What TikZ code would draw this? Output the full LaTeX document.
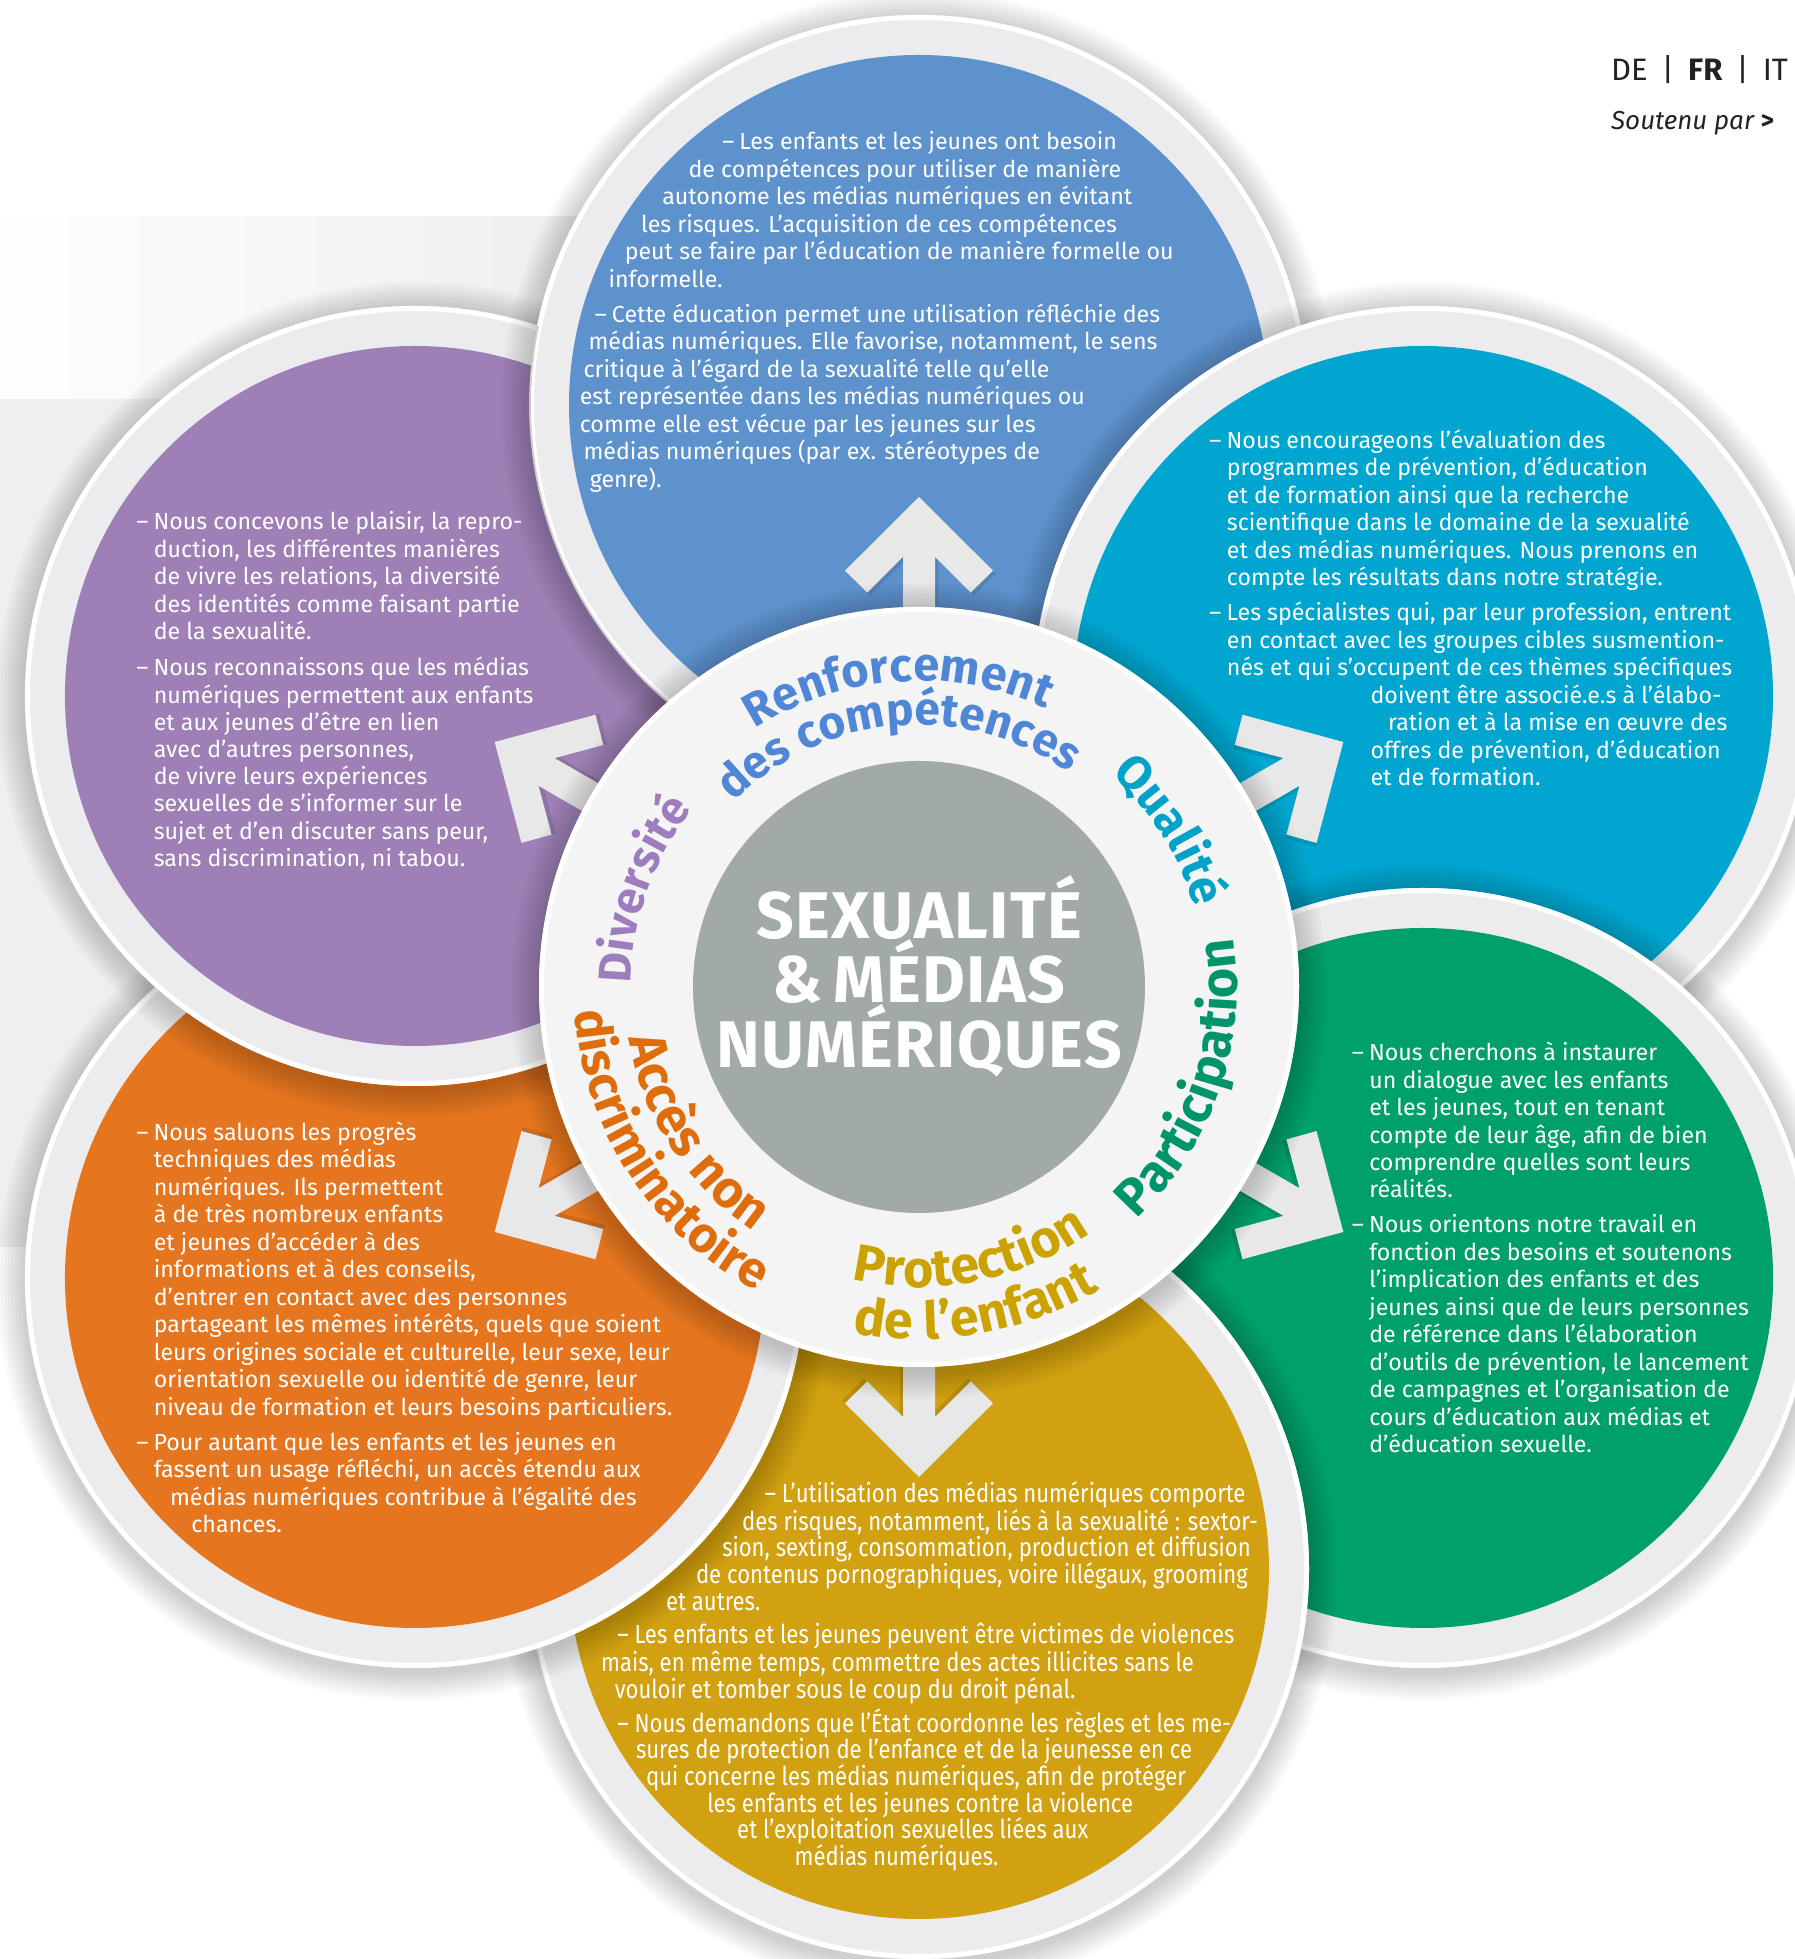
\documentclass[tikz,border=0pt]{standalone}
\usepackage{fontspec}
\setmainfont{Fira Sans}
\newfontfamily\condfont[FakeStretch=0.85]{Fira Sans}
\usetikzlibrary{decorations.text,calc,fadings}
\definecolor{cBlue}{HTML}{5E92CC}
\definecolor{cPurple}{HTML}{9E80B6}
\definecolor{cCyan}{HTML}{00A6CF}
\definecolor{cGreen}{HTML}{00A06B}
\definecolor{cOrange}{HTML}{E5761F}
\definecolor{cYellow}{HTML}{D1A111}
\definecolor{cGrayDisc}{HTML}{A2AAA7}
\definecolor{ringgray}{HTML}{ECECEE}
\definecolor{bandgray}{HTML}{F4F4F4}
\definecolor{arrowgray}{HTML}{E8E8E8}
\definecolor{bggray}{HTML}{EFEFEF}
\definecolor{lBlue}{HTML}{4F86D6}
\definecolor{lCyan}{HTML}{00A3C8}
\definecolor{lGreen}{HTML}{00946B}
\definecolor{lYellow}{HTML}{CBA200}
\definecolor{lOrange}{HTML}{DF6D0C}
\definecolor{lPurple}{HTML}{9D7DBE}
\definecolor{topgray}{HTML}{222222}

\newcommand\bodyfont{\fontsize{23.2}{27}\selectfont}
\newcommand\yfont{\condfont\fontsize{26}{27}\selectfont}
\newcommand\titfont{\fontsize{66}{70}\selectfont\bfseries\addfontfeatures{LetterSpace=2}}
\newcommand\dd{–\hspace{0.22em}}
\newcounter{tln}
\newcommand\tl[3]{\stepcounter{tln}\node[bodytext] (tl\arabic{tln}) at ({1.2492*#1},{1959-1.2492*(#2+6)}) {#3};}
\newcommand\ytl[3]{\stepcounter{tln}\node[bodytext,font=\yfont] (tl\arabic{tln}) at ({1.2492*#1},{1959-1.2492*(#2+6)}) {#3};}
% soft shadow as rings outside radius #2 around #1
\newcommand\softshadow[2]{%
  \foreach \k in {1,...,8}{\fill[black,opacity=0.024,even odd rule] ($(#1)+(0,-4)$) circle ({#2+3.5*\k}) (#1) circle ({#2-2});}}
\newcommand\petal[2]{%
  \softshadow{#1}{390}
  \fill[ringgray] (#1) circle (390);
  \draw[white,line width=5] (#1) circle (387.5);
  \fill[#2] (#1) circle (350);}
\newcommand\arrowat[1]{%
  \begin{scope}[shift={(C)},rotate=#1-90]
    \fill[black,opacity=0.10] (3,487) -- (77,413.3) -- (54.7,391.4) -- (19,427) -- (19,357) -- (-13,357) -- (-13,427) -- (-48.7,391.4) -- (-71,413.3) -- cycle;
    \fill[arrowgray] (0,490) -- (74,416.3) -- (51.7,394.4) -- (16,430) -- (16,360) -- (-16,360) -- (-16,430) -- (-51.7,394.4) -- (-74,416.3) -- cycle;
  \end{scope}}
% labels: radius, centre angle, colour, size, text
\newcommand\cwlabel[5]{%
  \path[decorate,decoration={text along path,text align=center,text color=#3,text={|\fontsize{#4}{#4}\selectfont\bfseries|#5}}]
    ($(C)+({#2+80}:#1)$) arc[start angle={#2+80},end angle={#2-80},radius=#1];}
\newcommand\ccwlabel[5]{%
  \path[decorate,decoration={text along path,text align=center,text color=#3,text={|\fontsize{#4}{#4}\selectfont\bfseries|#5}}]
    ($(C)+({#2-80}:#1)$) arc[start angle={#2-80},end angle={#2+80},radius=#1];}

\begin{document}
\begin{tikzpicture}[x=1pt,y=1pt,
  bodytext/.style={anchor=base west,inner sep=0,text=white,font=\bodyfont}]
\useasboundingbox (0,0) rectangle (1795,1959);
\clip (0,0) rectangle (1795,1959);
\fill[white] (0,0) rectangle (1795,1959);
% background panel
\fill[bggray] (0,712) rectangle (700,1743);
\fill[white,path fading=east] (0,1560) rectangle (560,1743);

\coordinate (C) at (919,972);
\path (C) ++(90:582) coordinate (PB);
\path (C) ++(30:582) coordinate (PC);
\path (C) ++(-30:582) coordinate (PG);
\path (C) ++(-90:582) coordinate (PY);
\path (C) ++(-150:582) coordinate (PO);
\path (C) ++(150:582) coordinate (PP);

% petals (cyclic overlap: each one lies over the previous, blue over purple)
\petal{PB}{cBlue}
\petal{PC}{cCyan}
\petal{PG}{cGreen}
\petal{PY}{cYellow}
\petal{PO}{cOrange}
\begin{scope}
  % clockwise frame + counter-clockwise circle = hole (nonzero rule)
  \clip (-10,-10) -- (-10,1970) -- (1805,1970) -- (1805,-10) -- cycle
    ($(PB)+(0:390)$) arc[start angle=0,end angle=360,radius=390] -- cycle;
  \petal{PP}{cPurple}
\end{scope}
\begin{scope}
  \clip (PP) circle (390);
  \softshadow{PB}{390}
\end{scope}

% arrows
\arrowat{90}
\arrowat{30}
\arrowat{-30}
\arrowat{-90}
\arrowat{-150}
\arrowat{150}

% centre
\softshadow{C}{380}
\fill[bandgray] (C) circle (380);
\draw[white,line width=5] (C) circle (377.5);
\fill[cGrayDisc] (C) circle (226);

% ring labels
\cwlabel{306}{94}{lBlue}{47}{Renforcement}
\cwlabel{262}{95}{lBlue}{46}{des compétences}
\cwlabel{287}{32}{lCyan}{48}{Qualité}
\cwlabel{288}{160.5}{lPurple}{46}{Diversité}
\ccwlabel{318}{-19}{lGreen}{52}{Participation}
\ccwlabel{300}{-79}{lYellow}{52}{Protection}
\ccwlabel{352}{-80}{lYellow}{52}{de l’enfant}
\ccwlabel{295}{-147}{lOrange}{52}{Accès non}
\ccwlabel{345}{-147}{lOrange}{50}{discriminatoire}

% title
\node[anchor=base,inner sep=0,text=white,font=\titfont] (t1) at (919,1020) {SEXUALITÉ};
\node[anchor=base,inner sep=0,text=white,font=\titfont] (t2) at (919,956) {\&\,MÉDIAS};
\node[anchor=base,inner sep=0,text=white,font=\titfont] (t3) at (919,891) {NUMÉRIQUES};

% blue
\tl{578}{114}{\dd Les enfants et les jeunes ont besoin}
\tl{551}{136}{de compétences pour utiliser de manière}
\tl{530}{158}{autonome les médias numériques en évitant}
\tl{513}{180}{les risques. L’acquisition de ces compétences}
\tl{500}{202}{peut se faire par l’éducation de manière formelle ou}
\tl{487}{224}{informelle.}
\tl{476}{252}{\dd Cette éducation permet une utilisation réfléchie des}
\tl{471}{274}{médias numériques. Elle favorise, notamment, le sens}
\tl{467}{296}{critique à l’égard de la sexualité telle qu’elle}
\tl{464}{318}{est représentée dans les médias numériques ou}
\tl{464}{340}{comme elle est vécue par les jeunes sur les}
\tl{467}{362}{médias numériques (par ex. stéréotypes de}
\tl{472}{384}{genre).}
% purple
\tl{109}{418}{\dd Nous concevons le plaisir, la repro-}
\tl{123}{440}{duction, les différentes manières}
\tl{123}{462}{de vivre les relations, la diversité}
\tl{123}{484}{des identités comme faisant partie}
\tl{123}{506}{de la sexualité.}
\tl{109}{535}{\dd Nous reconnaissons que les médias}
\tl{123}{557}{numériques permettent aux enfants}
\tl{123}{579}{et aux jeunes d’être en lien}
\tl{123}{600}{avec d’autres personnes,}
\tl{123}{622}{de vivre leurs expériences}
\tl{123}{644}{sexuelles de s’informer sur le}
\tl{123}{666}{sujet et d’en discuter sans peur,}
\tl{123}{688}{sans discrimination, ni tabou.}
% cyan
\tl{968}{353}{\dd Nous encourageons l’évaluation des}
\tl{982}{375}{programmes de prévention, d’éducation}
\tl{982}{397}{et de formation ainsi que la recherche}
\tl{982}{419}{scientifique dans le domaine de la sexualité}
\tl{982}{441}{et des médias numériques. Nous prenons en}
\tl{982}{463}{compte les résultats dans notre stratégie.}
\tl{968}{491}{\dd Les spécialistes qui, par leur profession, entrent}
\tl{982}{513}{en contact avec les groupes cibles susmention-}
\tl{982}{535}{nés et qui s’occupent de ces thèmes spécifiques}
\tl{1097}{557}{doivent être associé.e.s à l’élabo-}
\tl{1111}{579}{ration et à la mise en œuvre des}
\tl{1097}{601}{offres de prévention, d’éducation}
\tl{1097}{623}{et de formation.}
% green
\tl{1082}{843}{\dd Nous cherchons à instaurer}
\tl{1096}{865}{un dialogue avec les enfants}
\tl{1096}{887}{et les jeunes, tout en tenant}
\tl{1096}{909}{compte de leur âge, afin de bien}
\tl{1096}{931}{comprendre quelles sont leurs}
\tl{1096}{953}{réalités.}
\tl{1082}{981}{\dd Nous orientons notre travail en}
\tl{1096}{1003}{fonction des besoins et soutenons}
\tl{1096}{1025}{l’implication des enfants et des}
\tl{1096}{1047}{jeunes ainsi que de leurs personnes}
\tl{1096}{1069}{de référence dans l’élaboration}
\tl{1096}{1091}{d’outils de prévention, le lancement}
\tl{1096}{1113}{de campagnes et l’organisation de}
\tl{1096}{1135}{cours d’éducation aux médias et}
\tl{1096}{1157}{d’éducation sexuelle.}
% orange
\tl{109}{907}{\dd Nous saluons les progrès}
\tl{123}{929}{techniques des médias}
\tl{123}{951}{numériques. Ils permettent}
\tl{123}{973}{à de très nombreux enfants}
\tl{123}{995}{et jeunes d’accéder à des}
\tl{123}{1017}{informations et à des conseils,}
\tl{123}{1039}{d’entrer en contact avec des personnes}
\tl{123}{1061}{partageant les mêmes intérêts, quels que soient}
\tl{123}{1083}{leurs origines sociale et culturelle, leur sexe, leur}
\tl{123}{1105}{orientation sexuelle ou identité de genre, leur}
\tl{123}{1127}{niveau de formation et leurs besoins particuliers.}
\tl{109}{1155}{\dd Pour autant que les enfants et les jeunes en}
\tl{123}{1177}{fassent un usage réfléchi, un accès étendu aux}
\tl{136}{1199}{médias numériques contribue à l’égalité des}
\tl{153}{1221}{chances.}
% yellow
\ytl{612}{1197}{\dd L’utilisation des médias numériques comporte}
\ytl{594}{1219}{des risques, notamment, liés à la sexualité : sextor-}
\ytl{578}{1240}{sion, sexting, consommation, production et diffusion}
\ytl{557}{1262}{de contenus pornographiques, voire illégaux, grooming}
\ytl{533}{1283}{et autres.}
\ytl{494}{1310}{\dd Les enfants et les jeunes peuvent être victimes de violences}
\ytl{481}{1332}{mais, en même temps, commettre des actes illicites sans le}
\ytl{492}{1354}{vouloir et tomber sous le coup du droit pénal.}
\ytl{494}{1381}{\dd Nous demandons que l’État coordonne les règles et les me-}
\ytl{509}{1402}{sures de protection de l’enfance et de la jeunesse en ce}
\ytl{517}{1423}{qui concerne les médias numériques, afin de protéger}
\ytl{566}{1445}{les enfants et les jeunes contre la violence}
\ytl{590}{1466}{et l’exploitation sexuelles liées aux}
\ytl{636}{1487}{médias numériques.}

% top right
\node[anchor=base west,inner sep=0,text=topgray,font=\fontsize{31}{34}\selectfont] (lang) at (1611,1878)
  {DE\hspace{0.45em}|\hspace{0.45em}\textbf{FR}\hspace{0.45em}|\hspace{0.45em}IT};
\node[anchor=base west,inner sep=0,text=topgray,font=\fontsize{26}{30}\selectfont\itshape] (sout) at (1611,1829)
  {Soutenu par \textbf{\upshape >}};
\end{tikzpicture}
\end{document}
